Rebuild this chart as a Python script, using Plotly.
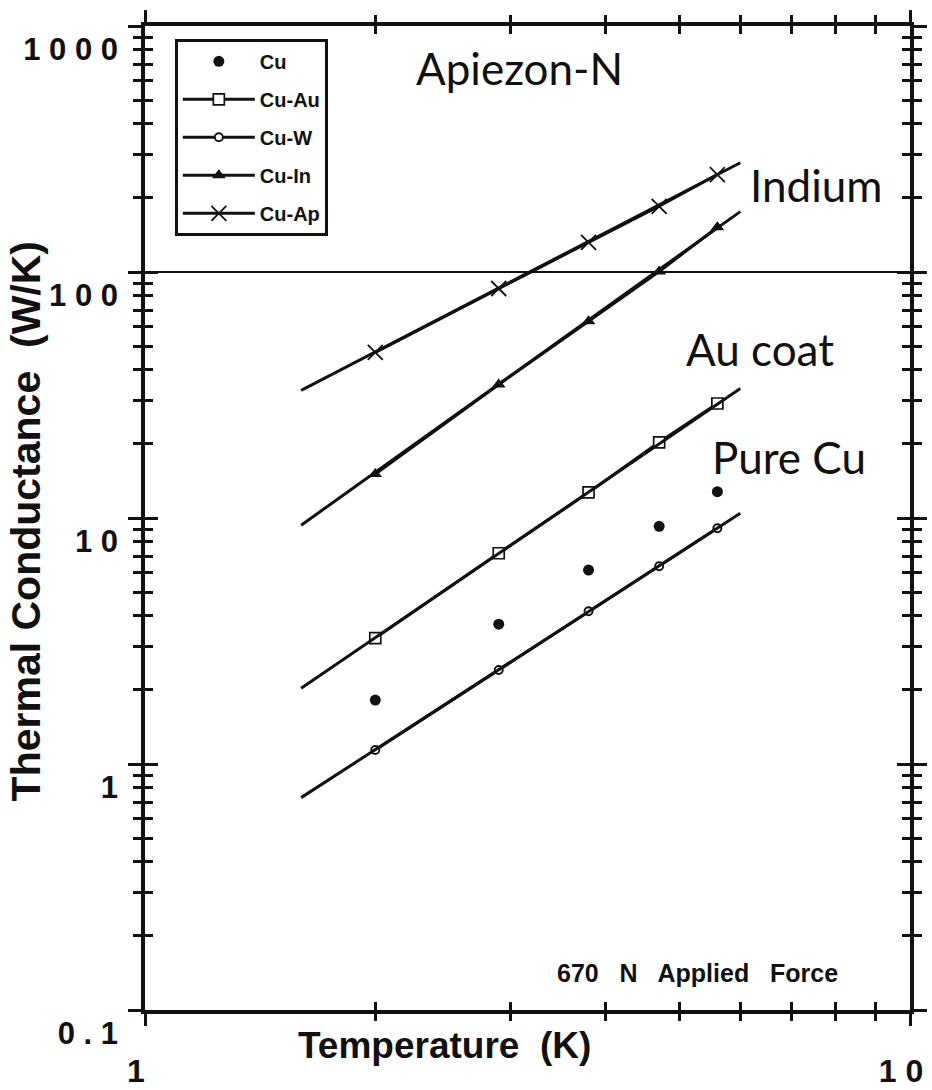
import plotly.graph_objects as go

# ---------------- data ----------------
temperature = [2.0, 2.9, 3.8, 4.7, 5.6]          # K, measured points
fit_temperature = [1.6, 6.0]                       # K, extent of the fitted lines

cu = [1.82, 3.70, 6.14, 9.25, 12.8]
cu_au = [3.25, 7.19, 12.7, 20.3, 29.2]
cu_w = [1.14, 2.41, 4.18, 6.37, 9.09]
cu_in = [15.1, 34.9, 63.0, 100.5, 152.0]
cu_ap = [47.1, 85.7, 132.0, 185.0, 249.0]

fit_cu_au = [2.03, 33.6]
fit_cu_w = [0.73, 10.45]
fit_cu_in = [9.35, 176.0]
fit_cu_ap = [33.0, 278.0]

reference_level = 100  # horizontal line in the original

x_major = [1, 10]
x_major_text = ["1", "1 0"]
x_minor = [2, 3, 4, 5, 6, 7, 8, 9]
y_major = [0.1, 1, 10, 100, 1000]
y_major_text = ["0 . 1", "1", "1 0", "1 0 0", "1 0 0 0"]
y_minor = [m * 10.0 ** e for e in (-1, 0, 1, 2) for m in range(2, 10)]

series_labels = [("Apiezon-N", 0.490, 0.957), ("Indium", 0.877, 0.838),
                 ("Au coat", 0.804, 0.672), ("Pure Cu", 0.842, 0.562)]

# ---------------- styling ----------------
BOLD = "Liberation Sans"
LBL = "Lato"
INK = "#111111"

fig = go.Figure()

line_style = dict(color=INK, width=3)

fits = [("Cu-Au", fit_cu_au), ("Cu-W", fit_cu_w), ("Cu-In", fit_cu_in), ("Cu-Ap", fit_cu_ap)]
for name, ys in fits:
    fig.add_trace(go.Scatter(x=fit_temperature, y=ys, mode="lines", line=line_style,
                             xaxis="x2", yaxis="y2",
                             legendgroup=name, showlegend=False, hoverinfo="skip"))

fig.add_trace(go.Scatter(x=temperature, y=cu, mode="markers", name="Cu", legendgroup="Cu",
                         marker=dict(symbol="circle", size=11, color=INK)))
fig.add_trace(go.Scatter(x=temperature, y=cu_au, mode="lines+markers", name="Cu-Au", legendgroup="Cu-Au",
                         line=line_style,
                         marker=dict(symbol="square", size=11, color="white", line=dict(color=INK, width=1.7))))
fig.add_trace(go.Scatter(x=temperature, y=cu_w, mode="lines+markers", name="Cu-W", legendgroup="Cu-W",
                         line=line_style,
                         marker=dict(symbol="circle", size=8, color="white", line=dict(color=INK, width=1.9))))
fig.add_trace(go.Scatter(x=temperature, y=cu_in, mode="lines+markers", name="Cu-In", legendgroup="Cu-In",
                         line=line_style,
                         marker=dict(symbol="triangle-up", size=12, color=INK)))
fig.add_trace(go.Scatter(x=temperature, y=cu_ap, mode="lines+markers", name="Cu-Ap", legendgroup="Cu-Ap",
                         line=line_style,
                         marker=dict(symbol="x-thin", size=15, color=INK, line=dict(color=INK, width=1.8))))

fig.add_hline(y=reference_level, line=dict(color=INK, width=1.8), layer="below")

axis_common = dict(type="log", showgrid=False, zeroline=False, showline=True, automargin=False,
                   linecolor=INK, linewidth=3.5, tickcolor=INK, tickwidth=3)

fig.update_layout(
    width=932, height=1090,
    margin=dict(l=145, r=22, t=26, b=80, autoexpand=False),
    paper_bgcolor="white", plot_bgcolor="white",
    xaxis=dict(**axis_common, range=[0, 1], tickmode="array", tickvals=x_major, ticktext=x_major_text,
               ticks="inside", ticklen=13, mirror="ticks",
               minor=dict(tickmode="array", tickvals=x_minor, ticks="inside", ticklen=8,
                          tickwidth=2.5, tickcolor=INK, showgrid=False),
               tickfont=dict(family=BOLD, size=32, color=INK, weight="bold"),
               ticklabelstandoff=30, ticklabelshift=-9),
    xaxis2=dict(**axis_common, range=[0, 1], overlaying="x", anchor="y2", side="bottom", matches="x",
                tickmode="array", tickvals=x_major, ticks="outside", ticklen=12, mirror="ticks",
                showticklabels=False,
                minor=dict(tickmode="array", tickvals=x_minor, ticks="outside", ticklen=7,
                           tickwidth=2.5, tickcolor=INK, showgrid=False)),
    yaxis=dict(**axis_common, range=[-1, 3], tickmode="array", tickvals=y_major, ticktext=y_major_text,
               ticks="inside", ticklen=13, mirror="ticks",
               minor=dict(tickmode="array", tickvals=y_minor, ticks="inside", ticklen=8,
                          tickwidth=2.5, tickcolor=INK, showgrid=False),
               tickfont=dict(family=BOLD, size=31, color=INK, weight="bold"),
               ticklabelstandoff=17, ticklabelshift=23),
    yaxis2=dict(**axis_common, range=[-1, 3], overlaying="y", anchor="x2", side="left", matches="y",
                tickmode="array", tickvals=y_major, ticks="outside", ticklen=13, mirror="ticks",
                showticklabels=False,
                minor=dict(tickmode="array", tickvals=y_minor, ticks="outside", ticklen=8,
                           tickwidth=2.5, tickcolor=INK, showgrid=False)),
    legend=dict(x=0.039, y=0.987, xanchor="left", yanchor="top",
                bgcolor="white", bordercolor=INK, borderwidth=3,
                font=dict(family=BOLD, size=20, color=INK, weight="bold"),
                tracegroupgap=9, itemwidth=72),
    showlegend=True,
)

annotations = [
    dict(text="Temperature  (K)", x=0.391, y=-0.036, xref="paper", yref="paper",
         showarrow=False, font=dict(family=BOLD, size=37, color=INK, weight="bold"),
         xanchor="center", yanchor="middle"),
    dict(text="Thermal Conductance  (W/K)", x=-0.155, y=0.497, xref="paper", yref="paper",
         showarrow=False, textangle=-90, font=dict(family=BOLD, size=41, color=INK, weight="bold"),
         xanchor="center", yanchor="middle"),
    dict(text="670   N   Applied   Force", x=0.7216, y=0.0376, xref="paper", yref="paper",
         showarrow=False, font=dict(family=BOLD, size=25, color=INK, weight="bold"),
         xanchor="center", yanchor="middle"),
]
for txt, ax, ay in series_labels:
    annotations.append(dict(text=txt, x=ax, y=ay, xref="paper", yref="paper", showarrow=False,
                            font=dict(family=LBL, size=44, color=INK),
                            xanchor="center", yanchor="middle"))
fig.update_layout(annotations=annotations)

fig.write_html("out.html")
